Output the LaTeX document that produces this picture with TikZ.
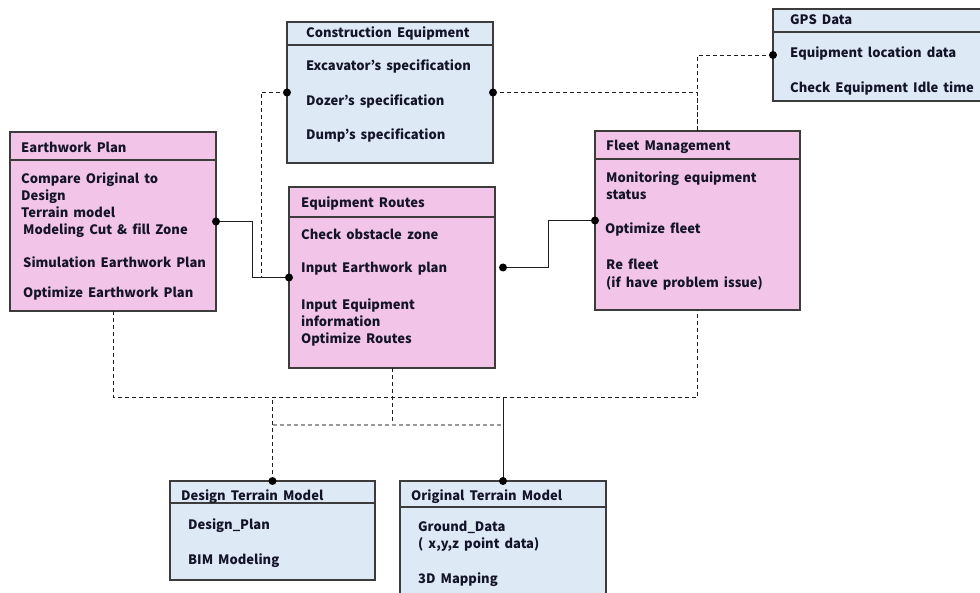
\documentclass[tikz,border=0pt]{standalone}
\usepackage{fontspec}
\setmainfont[WordSpace=1.7]{Noto Sans CJK KR}
\usetikzlibrary{calc}
\definecolor{pinkfill}{RGB}{242,196,232}
\definecolor{bluefill}{RGB}{221,233,245}
\definecolor{edgec}{RGB}{60,60,60}
\definecolor{txt}{RGB}{20,20,40}
\definecolor{linec}{RGB}{30,30,30}
\tikzset{
  box/.style={draw=edgec, line width=1.1pt, anchor=north west, inner sep=0pt, outer sep=0pt},
  hdr/.style={draw=edgec, line width=1.1pt},
  lbl/.style={anchor=west, inner sep=0pt, text height=11.5pt, text depth=0pt, text=txt, font=\bfseries\fontsize{13}{15}\selectfont},
  conn/.style={draw=linec, line width=0.9pt},
  dconn/.style={draw=linec, line width=0.9pt, dash pattern=on 4pt off 3pt},
  gconn/.style={draw=gray!80, line width=1.1pt, dash pattern=on 4pt off 3pt},
  dotc/.style={fill=black}
}
\begin{document}
\begin{tikzpicture}[x=1pt,y=-1pt]
\useasboundingbox (0,0) rectangle (980,593);
\clip (0,0) rectangle (980,593);
% boxes
\node[box, fill=bluefill, minimum width=206pt, minimum height=141pt] (ce) at (287,22) {};
\node[box, fill=pinkfill, minimum width=206pt, minimum height=179pt] (ep) at (10,132) {};
\node[box, fill=pinkfill, minimum width=206pt, minimum height=181pt] (er) at (289,187) {};
\node[box, fill=pinkfill, minimum width=205pt, minimum height=179pt] (fm) at (595,131) {};
\node[box, fill=bluefill, minimum width=220pt, minimum height=92pt] (gps) at (773,9) {};
\node[box, fill=bluefill, minimum width=205pt, minimum height=99pt] (dtm) at (170,481) {};
\node[box, fill=bluefill, minimum width=206pt, minimum height=130pt] (otm) at (400,481) {};
% header lines
\draw[hdr] (ce.west |- 0,45) -- (ce.east |- 0,45);
\draw[hdr] (ep.west |- 0,160) -- (ep.east |- 0,160);
\draw[hdr] (er.west |- 0,217) -- (er.east |- 0,217);
\draw[hdr] (fm.west |- 0,159) -- (fm.east |- 0,159);
\draw[hdr] (gps.west |- 0,32) -- (gps.east |- 0,32);
\draw[hdr] (dtm.west |- 0,503) -- (dtm.east |- 0,503);
\draw[hdr] (otm.west |- 0,507) -- (otm.east |- 0,507);
% texts: Construction Equipment
\node[lbl] (ce0) at (306,32) {Construction Equipment};
\node[lbl] (ce1) at (306,65) {Excavator’s specification};
\node[lbl] (ce2) at (306,100) {Dozer’s specification};
\node[lbl] (ce3) at (306,134) {Dump’s specification};
% Earthwork Plan
\node[lbl] (ep0) at (21,147) {Earthwork Plan};
\node[lbl] (ep1) at (21,178) {Compare Original to};
\node[lbl] (ep2) at (21,195) {Design};
\node[lbl] (ep3) at (21,212) {Terrain model};
\node[lbl] (ep4) at (23,229) {Modeling Cut \& fill Zone};
\node[lbl] (ep5) at (23,262) {Simulation Earthwork Plan};
\node[lbl] (ep6) at (23,292) {Optimize Earthwork Plan};
% Equipment Routes
\node[lbl] (er0) at (301,202) {Equipment Routes};
\node[lbl] (er1) at (301,234) {Check obstacle zone};
\node[lbl] (er2) at (301,267) {Input Earthwork plan};
\node[lbl] (er3) at (301,304) {Input Equipment};
\node[lbl] (er4) at (301,321) {information};
\node[lbl] (er5) at (301,338) {Optimize Routes};
% Fleet Management
\node[lbl] (fm0) at (606,145) {Fleet Management};
\node[lbl] (fm1) at (606,177) {Monitoring equipment};
\node[lbl] (fm2) at (606,194) {status};
\node[lbl] (fm3) at (605,228) {Optimize fleet};
\node[lbl] (fm4) at (606,264) {Re fleet};
\node[lbl] (fm5) at (606,282) {(if have problem issue)};
% GPS Data
\node[lbl] (gps0) at (790,19) {GPS Data};
\node[lbl] (gps1) at (790,52) {Equipment location data};
\node[lbl] (gps2) at (790,87) {Check Equipment Idle time};
% Design Terrain Model
\node[lbl] (dtm0) at (181,495) {Design Terrain Model};
\node[lbl] (dtm1) at (188,524) {Design\_Plan};
\node[lbl] (dtm2) at (188,559) {BIM Modeling};
% Original Terrain Model
\node[lbl] (otm0) at (411,495) {Original Terrain Model};
\node[lbl] (otm1) at (418,526) {Ground\_Data};
\node[lbl] (otm2) at (418,543) {( x,y,z point data)};
\node[lbl] (otm3) at (418,578) {3D Mapping};
% helper coordinates
\coordinate (bus) at (0,397);
\coordinate (sub) at (0,425);
\coordinate (erdot) at ($(er.east)+(8,-10)$);
% connectors
\draw[conn] (ep.east) -- ++(36,0) |- (er.west);
\draw[dconn] (ce.west) -- ++(-26,0) |- (er.west);
\draw[conn] (erdot) -- ++(45,0) |- (fm.west);
\draw[dconn] (ce.east) -| (fm.north);
\draw[dconn] (fm.north) |- (gps.west);
\draw[dconn] (ep.south) -- (ep.south |- bus) -- (fm.south |- bus) -- (fm.south);
\draw[dconn] (er.south) -- (er.south |- sub);
\draw[gconn] (dtm.north |- sub) -- (otm.north |- sub);
\draw[dconn] (dtm.north) -- (dtm.north |- bus);
\draw[conn] (otm.north) -- (otm.north |- bus);
% dots
\fill[dotc] (ce.west) circle (4pt);
\fill[dotc] (ce.east) circle (4pt);
\fill[dotc] (ep.east) circle (4pt);
\fill[dotc] (er.west) circle (4pt);
\fill[dotc] (erdot) circle (4pt);
\fill[dotc] (fm.west) circle (4pt);
\fill[dotc] (gps.west) circle (4pt);
\fill[dotc] (dtm.north) circle (4pt);
\fill[dotc] (otm.north) circle (4pt);
\end{tikzpicture}
\end{document}
